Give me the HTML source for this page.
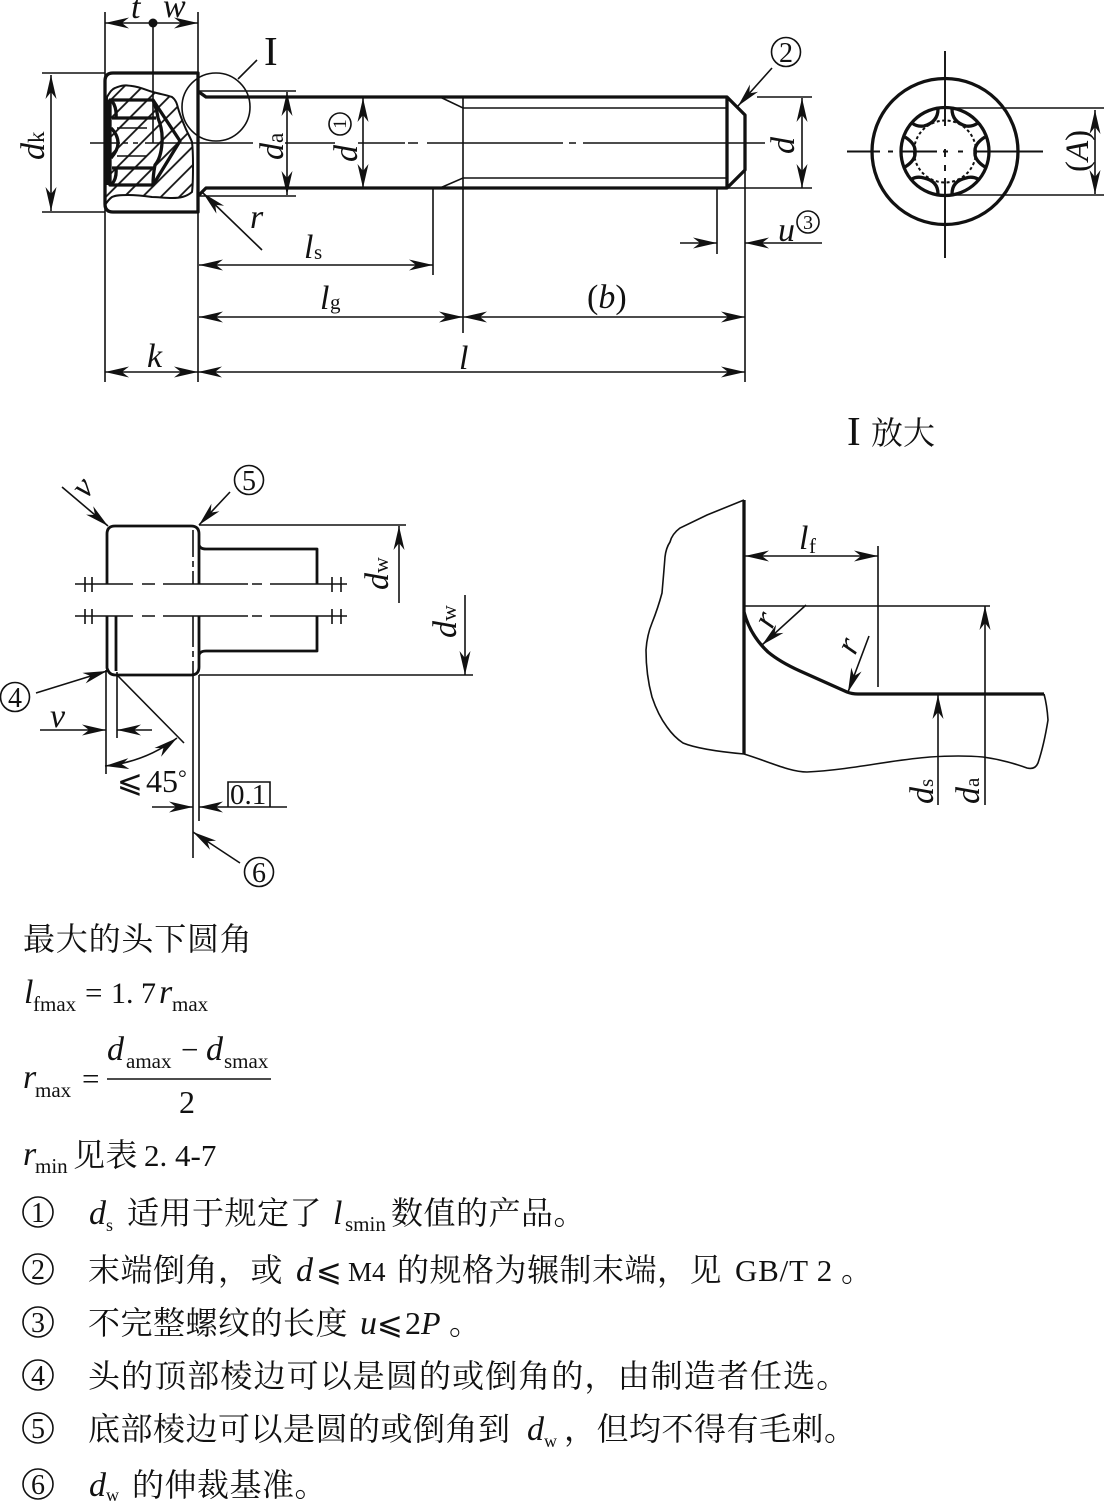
<!DOCTYPE html>
<html><head><meta charset="utf-8"><style>
html,body{margin:0;padding:0;background:#fff}
svg{display:block}
.t{stroke:#111;stroke-width:1.6;fill:none}
.k{stroke:#111;stroke-width:3.3;fill:none;stroke-linejoin:round}
.a{marker-start:url(#ar);marker-end:url(#ar)}
.e{marker-end:url(#ar)}
text{font-family:"Liberation Serif","Noto Serif CJK SC",serif;font-size:31px;fill:#111}
.i{font-style:italic;font-size:34px}
.s{font-size:21px}
.c{text-anchor:middle}
.cj{font-size:32px;letter-spacing:.5px}
.n{font-size:28px;text-anchor:middle}
.le{font-family:"DejaVu Sans","Liberation Serif","Noto Serif CJK SC",sans-serif;font-size:31px}
</style></head><body>
<svg width="1104" height="1502" viewBox="0 0 1104 1502" xmlns="http://www.w3.org/2000/svg">
<defs>
<marker id="ar" viewBox="-26 -7 27 14" markerWidth="27" markerHeight="14" refX="0" refY="0" orient="auto-start-reverse" markerUnits="userSpaceOnUse"><path d="M0 0L-24 -5.5L-17 0L-24 5.5Z" fill="#111"/></marker>
<pattern id="h" width="13" height="13" patternUnits="userSpaceOnUse" patternTransform="rotate(45)"><line x1="6" y1="0" x2="6" y2="13" stroke="#111" stroke-width="1.8"/></pattern>
</defs>
<rect width="1104" height="1502" fill="#fff"/>

<!-- main view: extension lines -->
<path class="t" d="M105 12V382M198 12V382M42 73H105M42 212H105M199 91H296M199 196H296M433 188V275M463 97V333M717 188V254M745 115V382M757 97H812M727 188H812M238 79L257 60"/>
<path class="t e" d="M153 23H105"/><path class="t e" d="M153 23H198"/>
<circle cx="153" cy="23" r="4.5" fill="#111"/>
<path class="t a" d="M51 75V211"/>
<path class="t a" d="M287 92V195"/>
<path class="t a" d="M363 98V188"/>
<path class="t a" d="M802 98V188"/>
<circle cx="216" cy="107" r="34" class="t"/>
<!-- head -->
<path class="k" d="M198 73H113Q105 73 105 81V204Q105 212 113 212H198Z" fill="none"/>
<path d="M107 97C110 92 112 89 115 88C122 85 126 85 132 86C140 87 146 90 153 92C160 94 166 95 172 97C176 100 177 104 178 108C180 115 182 120 185 127C187 132 190 137 192 142C193 150 193 158 193 165C193 175 193 185 192 192C186 197 180 198 172 198C165 198 158 197 152 197C145 196 136 195 128 195C122 195 116 195 112 197C109 199 107 202 105 205Z" fill="url(#h)" stroke="#111" stroke-width="2"/>
<path class="k" d="M110 100H153L180 141L153 185H110Z" fill="#fff"/>
<path class="k" d="M108 100V185M112 118H156M112 168H156M112 101Q117 108 116 118M111 128Q118 135 118 143Q118 150 111 158M116 168Q117 178 112 184M153 100Q157 110 158 118Q163 130 162 143Q161 158 155 165Q153 175 153 185"/>
<path class="t" d="M117 128H147M117 156H147"/>
<path class="t" d="M153 23V143"/>
<path class="t" d="M90 143H120M123 143H128M133 143H138M145 143H253M285 143H335M358 143H405M408 143H418M427 143H563M569 143H576M583 143H765"/>
<!-- shank -->
<path class="k" d="M199 92L206 97H727L745 115V170L727 188H206L199 195M727 97V188"/>
<path class="t" d="M440 97L463 108H727M440 188L463 178H727"/>
<path class="t e" d="M772 68L738 106"/>
<path class="t e" d="M262 250L203 193"/>
<path class="t e" d="M680 243H717"/><path class="t e" d="M822 243H745"/>
<path class="t a" d="M199 265H433"/>
<path class="t a" d="M199 317H463"/><path class="t a" d="M463 317H745"/>
<path class="t a" d="M105 372H198"/><path class="t a" d="M198 372H745"/>
<!-- labels main -->
<text class="i" x="131" y="18">t</text><text class="i" x="163" y="17">w</text>
<text x="264" y="65" style="font-size:41px">I</text>
<g transform="translate(44,160) rotate(-90)"><text class="i">d</text><text class="s" x="17" style="font-size:23px">k</text></g>
<g transform="translate(283,160) rotate(-90)"><text class="i">d</text><text class="s" x="17" style="font-size:23px">a</text></g>
<g transform="translate(357,162) rotate(-90)"><text class="i">d</text></g>
<circle cx="340" cy="124" r="11" class="t"/><text x="340" y="124" class="c" style="font-size:19px" transform="rotate(-90 340 124) translate(0,6)">1</text>
<g transform="translate(794,154) rotate(-90)"><text class="i">d</text></g>
<text class="i" x="250" y="228">r</text>
<text class="i" x="778" y="241">u</text>
<circle cx="808" cy="222" r="11" class="t"/><text x="808" y="229" class="c" style="font-size:20px">3</text>
<circle cx="786" cy="52" r="14.5" class="t"/><text x="786" y="62" class="n">2</text>
<text class="i" x="304" y="258">l</text><text class="s" x="314" y="259">s</text>
<text class="i" x="320" y="309">l</text><text class="s" x="330" y="309">g</text>
<text class="i" x="587" y="308"><tspan style="font-style:normal">(</tspan>b<tspan style="font-style:normal">)</tspan></text>
<text class="i" x="147" y="367">k</text>
<text class="i" x="459" y="369">l</text>

<!-- end view -->
<circle cx="945" cy="151.5" r="73" class="k"/>
<circle cx="945" cy="151.5" r="44" class="k"/>
<circle cx="945" cy="151.5" r="31" class="t" stroke-dasharray="3 2.5" style="stroke-width:2"/>
<path class="k" d="M938 109Q938 122 924 126Q917 127 912 123M952 109Q952 122 966 126Q972 127 978 123M938 194Q938 181 924 178Q917 176 912 179M952 194Q952 181 966 178Q972 176 978 179M905 137Q916 144 915 152Q916 160 905 167M985 137Q974 144 975 152Q974 160 985 167"/>
<path class="t" style="stroke-width:1.9" d="M847 151.5H880M888 151.5H893M900 151.5H937M943 151.5H948M958 151.5H963M975 151.5H1043M945 51V126M945 149V157M945 165V171M945 178V258"/>
<path class="t" d="M945 108H1104M945 195H1104"/>
<path class="t a" d="M1095 110V194"/>
<g transform="translate(1088,172) rotate(-90)"><text style="font-size:33px">(<tspan style="font-style:italic">A</tspan>)</text></g>
<text x="847" y="445" style="font-size:41px">I</text><text x="871" y="444" style="font-size:32px">放大</text>

<!-- left bottom view -->
<path class="k" style="stroke-width:2.8" d="M107 584V534Q107 526 115 526H191Q199 526 199 534V584M199 545Q200 549 206 549H317V584M107 616V668Q109 675 115 675H191Q199 675 199 667V616M199 655Q200 651 206 651H317V616M116 616V671"/>
<path class="t" d="M75 584H133M142 584H155M163 584H248M252 584H262M270 584H347M75 616H133M142 616H155M163 616H248M252 616H262M270 616H347"/>
<path class="t" d="M85 577V592M92 577V592M332 577V592M341 577V592M85 609V624M92 609V624M332 609V624M341 609V624"/>
<path class="t" d="M193 530V557M193 561V567M193 571V584M193 616V647M193 651V657M193 661V858M199 675V821M199 525H406M199 675H473M117 672V738M106 670V774M117 675L184 743M228 807V782H270V807"/>
<path class="t e" d="M399 603V526"/><path class="t e" d="M465 595V675"/>
<path class="t e" d="M62 487L108 526"/>
<path class="t e" d="M230 492L199 525"/>
<path class="t e" d="M36 693L107 671"/>
<path class="t e" d="M40 730H106"/><path class="t e" d="M152 730H117"/>
<path class="t a" d="M105 766Q145 762 177 738"/>
<path class="t e" d="M152 807H193"/><path class="t e" d="M287 807H199"/>
<path class="t" d="M240 863L193 832" marker-end="url(#ar)"/>
<g transform="translate(86,500) rotate(-50)"><text class="i">v</text></g>
<text class="i" x="50" y="727">v</text>
<circle cx="249" cy="480" r="14.5" class="t"/><text x="249" y="490" class="n">5</text>
<circle cx="15" cy="697" r="14.5" class="t"/><text x="15" y="707" class="n">4</text>
<circle cx="259" cy="872" r="14.5" class="t"/><text x="259" y="882" class="n">6</text>
<g transform="translate(388,590) rotate(-90)"><text class="i">d</text><text class="s" x="17" style="font-size:22px">w</text></g>
<g transform="translate(456,638) rotate(-90)"><text class="i">d</text><text class="s" x="17" style="font-size:22px">w</text></g>
<text class="le" x="117" y="792">⩽</text>
<text x="146" y="792" style="font-size:32px">45</text><text x="178" y="785" style="font-size:22px">°</text>
<text x="230" y="804" style="font-size:29px">0.1</text>

<!-- detail view -->
<path class="k" d="M744 500V754"/>
<path class="k" d="M744 612Q750 635 768 652Q780 662 800 671L847 692Q852 694 858 694H1044"/>
<path class="t" d="M744 500L707 515L680 528Q672 534 670 542Q666 548 665 557Q664 570 662 593Q658 608 652 623Q647 635 646 650Q646 675 652 697Q658 715 667 727Q674 737 683 743Q700 750 744 754C770 762 790 772 807 772C850 770 890 760 930 757Q960 755 983 757Q1005 760 1027 768Q1035 770 1038 763Q1044 745 1048 720Q1047 705 1044 694"/>
<path class="t" d="M744 606H990M878 546V687"/>
<path class="t a" d="M745 556H878"/>
<path class="t e" d="M985 805V606"/><path class="t e" d="M938 805V695"/>
<path class="t e" d="M806 605L762 645"/>
<path class="t e" d="M869 636L848 692"/>
<text class="i" x="799" y="549">l</text><text class="s" x="809" y="553">f</text>
<g transform="translate(772,630) rotate(-65)"><text class="i">r</text></g>
<g transform="translate(855,656) rotate(-65)"><text class="i">r</text></g>
<g transform="translate(933,804) rotate(-90)"><text class="i">d</text><text class="s" x="17">s</text></g>
<g transform="translate(979,804) rotate(-90)"><text class="i">d</text><text class="s" x="17">a</text></g>

<!-- formulas -->
<text class="cj" x="23" y="950" style="letter-spacing:.8px">最大的头下圆角</text>
<text class="i" x="24" y="1003">l</text><text class="s" x="33" y="1011">fmax</text>
<text x="85" y="1003">=</text><text x="111" y="1003" style="font-size:30px">1. 7</text><text class="i" x="159" y="1003">r</text><text class="s" x="172" y="1011">max</text>
<text class="i" x="23" y="1088">r</text><text class="s" x="35" y="1097">max</text><text x="82" y="1089">=</text>
<path class="t" d="M107 1079H271"/>
<text class="i" x="107" y="1060">d</text><text class="s" x="126" y="1068">amax</text>
<text x="181" y="1060">−</text>
<text class="i" x="206" y="1060">d</text><text class="s" x="224" y="1068">smax</text>
<text x="179" y="1113" style="font-size:32px">2</text>
<text class="i" x="23" y="1165">r</text><text class="s" x="35" y="1173">min</text>
<text class="cj" x="73" y="1166">见表</text><text x="144" y="1166">2. 4-7</text>

<!-- notes -->
<circle cx="38" cy="1212" r="15" class="t"/><text x="38" y="1222" class="n">1</text>
<text class="i" x="89" y="1224">d</text><text class="s" x="106" y="1231" style="font-size:18px">s</text>
<text class="cj" x="127" y="1224">适用于规定了</text>
<text class="i" x="333" y="1224">l</text><text class="s" x="345" y="1231">smin</text>
<text class="cj" x="391" y="1224">数值的产品。</text>

<circle cx="38" cy="1269" r="15" class="t"/><text x="38" y="1279" class="n">2</text>
<text class="cj" x="88" y="1281">末端倒角，或</text>
<text class="i" x="296" y="1281">d</text><text class="le" x="316" y="1281">⩽</text><text x="348" y="1281" style="font-size:27px">M4</text>
<text class="cj" x="397" y="1281">的规格为辗制末端，见</text>
<text x="735" y="1281" style="font-size:31px;letter-spacing:.8px">GB/T 2</text><text class="cj" x="841" y="1281">。</text>

<circle cx="38" cy="1322" r="15" class="t"/><text x="38" y="1332" class="n">3</text>
<text class="cj" x="88" y="1334">不完整螺纹的长度</text>
<text class="i" x="360" y="1334">u</text><text class="le" x="377" y="1334">⩽</text><text x="405" y="1334" style="font-size:32px">2<tspan style="font-style:italic">P</tspan></text><text class="cj" x="449" y="1334">。</text>

<circle cx="38" cy="1375" r="15" class="t"/><text x="38" y="1385" class="n">4</text>
<text class="cj" x="88" y="1387" style="letter-spacing:1.1px">头的顶部棱边可以是圆的或倒角的，由制造者任选。</text>

<circle cx="38" cy="1428" r="15" class="t"/><text x="38" y="1438" class="n">5</text>
<text class="cj" x="88" y="1440">底部棱边可以是圆的或倒角到</text>
<text class="i" x="527" y="1440">d</text><text class="s" x="544" y="1447" style="font-size:18px">w</text>
<text class="cj" x="564" y="1440">，但均不得有毛刺。</text>

<circle cx="38" cy="1484" r="15" class="t"/><text x="38" y="1494" class="n">6</text>
<text class="i" x="89" y="1496">d</text><text class="s" x="106" y="1501" style="font-size:18px">w</text>
<text class="cj" x="132" y="1496">的伸裁基准。</text>
</svg>
</body></html>
